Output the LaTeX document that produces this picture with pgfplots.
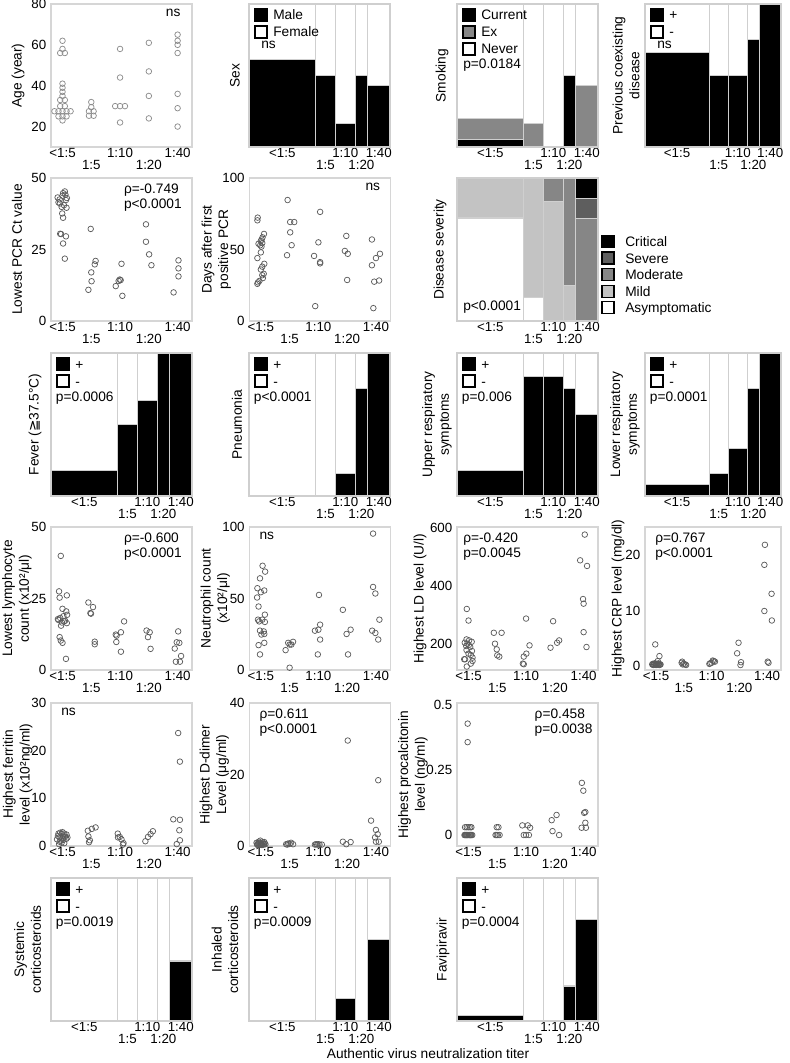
\documentclass[border=0pt]{standalone}
\usepackage{fontspec}
\setmainfont{Liberation Sans}
\newfontfamily\dejavu{DejaVu Sans}
\usepackage{pgfplots}
\pgfplotsset{compat=1.18}
\definecolor{frm}{HTML}{D6D6D6}
\definecolor{barln}{HTML}{CFCFCF}
\definecolor{mk}{HTML}{5C5C5C}
\definecolor{mkl}{HTML}{8C8C8C}
\definecolor{exg}{HTML}{878787}
\definecolor{sev}{HTML}{5E5E5E}
\definecolor{mod}{HTML}{868686}
\definecolor{mld}{HTML}{C3C3C3}
\newcommand{\tf}{\fontsize{10.3}{11.6}\selectfont}
\pgfplotsset{
  base/.style={scale only axis, width=105.75pt, height=107.25pt, anchor=north west,
    axis line style={frm, line width=0.8pt},
    xtick style={draw=none}, ytick style={draw=none},
    major tick length=0pt,
    tick label style={font=\fontsize{10}{12}\selectfont},
    xticklabel style={inner sep=0.3pt, text height=7pt, text depth=0pt, yshift=-0.5pt},
    label style={font=\fontsize{10.3}{12.5}\selectfont, align=center},
    /pgf/number format/assume math mode=true,
    clip=false},
  yl/.style={ylabel style={at={([xshift=#1]rel axis cs:0,0.5)}, anchor=center}},
  scat/.style={base, xmin=0.6, xmax=5.5,
    xtick={1,3,5}, xticklabels={<1:5,1:10,1:40},
    extra x ticks={2,4}, extra x tick labels={1:5,1:20},
    extra x tick style={tick label style={yshift=-8.6pt}}},
  mosaic/.style={base, xmin=0, xmax=1, ymin=0, ymax=1,
    xtick={0.236,0.6825,0.9205}, xticklabels={<1:5,1:10,1:40},
    extra x ticks={0.542,0.797}, extra x tick labels={1:5,1:20},
    extra x tick style={tick label style={yshift=-8.6pt}},
    ytick={0.5}, yticklabels={}},
  sc/.style={only marks, mark=o, mark size=2.1pt, color=mk, mark options={line width=0.55pt}},
  mb/.style={ybar interval, draw=barln, line width=0.9pt, forget plot},
}
\tikzset{
  tr/.style={anchor=north east, align=left, inner sep=0pt, xshift=-7.5pt, yshift=-4pt, font=\tf},
  tl/.style={anchor=north west, align=left, inner sep=0pt, xshift=4.5pt, yshift=-4pt, font=\tf},
  pl/.style={anchor=west, inner sep=0pt, xshift=3.5pt, yshift=-33.75pt, font=\tf},
  pl3/.style={anchor=west, inner sep=0pt, xshift=4.5pt, yshift=-45.75pt, font=\tf},
  nsl/.style={anchor=west, inner sep=0pt, xshift=9pt, yshift=-30.5pt, font=\tf},
}
% legend entry inside the axis, top left: #1 top offset, #2 fill, #3 text
\newcommand{\lgL}[3]{%
  \draw[fill=#2, line width=1pt] ([xshift=4.5pt,yshift=-#1]rel axis cs:0,1) rectangle ++(9pt,-9pt);
  \node[anchor=west, inner sep=0pt, text height=7.5pt, text depth=0pt, font=\tf] at ([xshift=18pt,yshift=-#1-4.5pt]rel axis cs:0,1) {#3};}
% legend entry outside right
\newcommand{\lgR}[3]{%
  \draw[fill=#2, line width=1pt] ([xshift=3pt,yshift=-#1]rel axis cs:1,1) rectangle ++(9pt,-9pt);
  \node[anchor=west, inner sep=0pt, text height=7.5pt, text depth=0pt, font=\tf] at ([xshift=20.25pt,yshift=-#1-4.5pt]rel axis cs:1,1) {#3};}
\begin{document}
\begin{tikzpicture}[font=\fontsize{10}{12}\selectfont]
\path[use as bounding box] (0,0) rectangle (591.75pt,-797.25pt);

% ---------------- Row 1 ----------------
\begin{axis}[scat, at={(38.25pt,-3pt)}, ymin=10, ymax=80, ytick={20,40,60,80}, ylabel={Age (year)}, yl=-24.75pt]
\addplot[sc, color=mkl] coordinates {(1,62)(1,58)(0.92,56)(1.08,56)(1,41)(1,39)(1,37)(1,35)(0.92,33)(1.08,33)(0.92,30)(1.08,30)(0.72,27.5)(0.86,27.5)(1,27.5)(1.14,27.5)(1.28,27.5)(0.86,25)(1,25)(1.14,25)(1,23)
(2,32)(2,29.5)(1.92,27.5)(2.08,27.5)(1.92,25.3)(2.08,25.3)
(3,58)(3,44)(2.83,30)(3,30)(3.17,30)(3,22)
(4,61)(4,47)(4,35)(4,24)
(5,65)(5,62)(5,60)(5,56)(5,36)(5,29)(5,20)};
\node[tr, xshift=-1pt] at (rel axis cs:1,1) {ns};
\end{axis}

\begin{axis}[mosaic, at={(186.75pt,-3pt)}, ylabel={Sex}, yl=-10.5pt]
\addplot[mb, fill=white] coordinates {(0,1)(0.472,1)(0.612,1)(0.753,1)(0.841,1)(1,1)};
\addplot[mb, fill=black] coordinates {(0,0.61)(0.472,0.5)(0.612,0.167)(0.753,0.5)(0.841,0.43)(1,0.43)};
\lgL{3.75pt}{black}{Male}
\lgL{16.5pt}{white}{Female}
\node[nsl] at (rel axis cs:0,1) {ns};
\end{axis}

\begin{axis}[mosaic, at={(342.75pt,-3pt)}, ylabel={Smoking}, yl=-11.25pt]
\addplot[mb, fill=white] coordinates {(0,1)(0.472,1)(0.612,1)(0.753,1)(0.841,1)(1,1)};
\addplot[mb, fill=exg] coordinates {(0,0.2)(0.472,0.167)(0.612,0)(0.753,0.5)(0.841,0.43)(1,0.43)};
\addplot[mb, fill=black] coordinates {(0,0.05)(0.472,0)(0.612,0)(0.753,0.5)(0.841,0)(1,0)};
\lgL{3.75pt}{black}{Current}
\lgL{16.5pt}{exg}{Ex}
\lgL{29.25pt}{white}{Never}
\node[pl3] at (rel axis cs:0,1) {p=0.0184};
\end{axis}

\begin{axis}[mosaic, at={(483.75pt,-3pt)}, width=102pt, ylabel={Previous coexisting\\disease}, yl=-14.25pt]
\addplot[mb, fill=white] coordinates {(0,1)(0.472,1)(0.612,1)(0.753,1)(0.841,1)(1,1)};
\addplot[mb, fill=black] coordinates {(0,0.66)(0.472,0.5)(0.612,0.5)(0.753,0.75)(0.841,1)(1,1)};
\lgL{3.75pt}{black}{+}
\lgL{16.5pt}{white}{-}
\node[nsl] at (rel axis cs:0,1) {ns};
\end{axis}

% ---------------- Row 2 ----------------
\begin{axis}[scat, at={(38.25pt,-133.5pt)}, ymin=0, ymax=50, ytick={0,25,50}, ylabel={Lowest PCR Ct value}, yl=-25.5pt]
\addplot[sc] coordinates {(1.08,45.3)(1.02,44.7)(1.1,44.2)(1.0,43.8)(0.83,43.2)(1.15,43.0)(0.9,42.5)(1.12,42.3)(0.86,41.5)(0.91,41.1)(1.05,40.5)(0.97,39.9)(1.14,39.6)(0.99,37.6)(1.02,36.1)(0.92,30.5)(0.95,30.4)(1.12,29.6)(1.02,27.1)(1.08,21.8)
(1.98,32.2)(2.15,21)(2.12,19.8)(2,17)(2.01,13.9)(1.9,10.9)
(3.05,20)(2.99,14.5)(2.95,14.0)(3.02,14.3)(2.85,12.2)(3.08,8.8)
(3.9,33.8)(3.9,27.7)(4.01,23.3)(4.09,19.5)
(5.03,21.2)(5.03,18.4)(5.03,15.6)(4.86,10)};
\node[tr] at (rel axis cs:1,1) {ρ=-0.749\\p<0.0001};
\end{axis}

\begin{axis}[scat, at={(187pt,-133.5pt)}, ymin=0, ymax=100, ytick={0,50,100}, ylabel={Days after first\\positive PCR}, yl=-24.75pt]
\addplot[sc] coordinates {(0.89,72.3)(0.88,70.4)(1.11,60.9)(1.06,58.5)(1.03,57)(1.0,56)(0.92,54)(1.05,54.5)(0.98,53)(1.02,52)(1.0,48)(0.88,44)(1.12,40)(1.05,38)(1.0,36)(1.1,33)(1.05,32)(1.07,30)(0.95,28)(0.9,27)(0.88,26)
(1.93,84.6)(2.02,69.2)(2.16,69.2)(2.02,62)(2.07,53)(1.91,46)
(3.06,76.3)(3.0,55)(2.85,45.5)(3.06,41.2)(3.06,40.3)(2.89,10.4)
(3.97,59.5)(3.92,49)(4.02,47)(4.0,28.7)
(4.86,57)(5.0,44)(5.14,47)(4.86,39)(4.94,27.5)(5.11,28.3)(4.91,9)};
\node[tr] at (rel axis cs:1,1) {ns};
\end{axis}

\begin{axis}[mosaic, at={(342.75pt,-133.5pt)}, ylabel={Disease severity}, yl=-12.75pt]
\addplot[mb, fill=black] coordinates {(0,1)(0.472,1)(0.612,1)(0.753,1)(0.841,1)(1,1)};
\addplot[mb, fill=sev] coordinates {(0,1)(0.472,1)(0.612,1)(0.753,1)(0.841,0.857)(1,0.857)};
\addplot[mb, fill=mod] coordinates {(0,1)(0.472,1)(0.612,1)(0.753,1)(0.841,0.714)(1,0.714)};
\addplot[mb, fill=mld] coordinates {(0,1)(0.472,1)(0.612,0.835)(0.753,0.25)(0.841,0)(1,0)};
\addplot[mb, fill=white] coordinates {(0,0.72)(0.472,0.167)(0.612,0)(0.753,0)(0.841,0)(1,0)};
\lgR{43.3pt}{black}{Critical}
\lgR{55.6pt}{sev}{Severe}
\lgR{68pt}{mod}{Moderate}
\lgR{80.4pt}{mld}{Mild}
\lgR{92.8pt}{white}{Asymptomatic}
\node[anchor=south west, inner sep=0pt, xshift=4.5pt, yshift=5.5pt, font=\tf] at (rel axis cs:0,0) {p<0.0001};
\end{axis}

% ---------------- Row 3 ----------------
\begin{axis}[mosaic, at={(38.25pt,-264.75pt)}, ylabel={Fever ({\dejavu ≧}37.5°C)}, yl=-12pt]
\addplot[mb, fill=white] coordinates {(0,1)(0.472,1)(0.612,1)(0.753,1)(0.841,1)(1,1)};
\addplot[mb, fill=black] coordinates {(0,0.18)(0.472,0.5)(0.612,0.667)(0.753,1)(0.841,1)(1,1)};
\lgL{3.75pt}{black}{+}
\lgL{16.5pt}{white}{-}
\node[pl] at (rel axis cs:0,1) {p=0.0006};
\end{axis}

\begin{axis}[mosaic, at={(186.75pt,-264.75pt)}, ylabel={Pneumonia}, yl=-9pt]
\addplot[mb, fill=white] coordinates {(0,1)(0.472,1)(0.612,1)(0.753,1)(0.841,1)(1,1)};
\addplot[mb, fill=black] coordinates {(0,0)(0.472,0)(0.612,0.156)(0.753,0.75)(0.841,1)(1,1)};
\lgL{3.75pt}{black}{+}
\lgL{16.5pt}{white}{-}
\node[pl] at (rel axis cs:0,1) {p<0.0001};
\end{axis}

\begin{axis}[mosaic, at={(342.75pt,-264.75pt)}, ylabel={Upper respiratory\\symptoms}, yl=-15pt]
\addplot[mb, fill=white] coordinates {(0,1)(0.472,1)(0.612,1)(0.753,1)(0.841,1)(1,1)};
\addplot[mb, fill=black] coordinates {(0,0.18)(0.472,0.833)(0.612,0.833)(0.753,0.75)(0.841,0.57)(1,0.57)};
\lgL{3.75pt}{black}{+}
\lgL{16.5pt}{white}{-}
\node[pl] at (rel axis cs:0,1) {p=0.006};
\end{axis}

\begin{axis}[mosaic, at={(483.75pt,-264.75pt)}, width=102pt, ylabel={Lower respiratory\\symptoms}, yl=-15pt]
\addplot[mb, fill=white] coordinates {(0,1)(0.472,1)(0.612,1)(0.753,1)(0.841,1)(1,1)};
\addplot[mb, fill=black] coordinates {(0,0.08)(0.472,0.16)(0.612,0.33)(0.753,0.75)(0.841,1)(1,1)};
\lgL{3.75pt}{black}{+}
\lgL{16.5pt}{white}{-}
\node[pl] at (rel axis cs:0,1) {p=0.0001};
\end{axis}

% ---------------- Row 4 ----------------
\begin{axis}[scat, at={(38.25pt,-395.25pt)}, ymin=0, ymax=50, ytick={0,25,50}, ylabel={Lowest lymphocyte\\count (x10²/μl)}, yl=-25.5pt]
\addplot[sc] coordinates {(0.94,39.9)(0.88,27.5)(0.9,25.3)(1.15,26.1)(1.0,21.4)(1.13,20.5)(0.92,18.2)(0.84,17.8)(0.86,17.5)(1.03,18.8)(1.16,19.3)(1.09,17.2)(1.15,16.4)(0.95,15.5)(0.9,11.5)(0.94,10.3)(1.0,9.5)(1.12,3.9)(1.05,17.0)(0.98,16.6)
(1.9,23.6)(2.06,22)(1.97,19.9)(1.99,19.7)(2.12,9.9)(2.12,9)
(3.14,17)(3.03,13.2)(2.85,12.4)(2.88,12)(2.87,9.8)(3.03,6.4)
(3.92,13.8)(4.03,13.2)(3.97,11.5)(4.06,7.4)
(5.02,13.5)(4.97,9.7)(5.06,9.5)(4.9,7.5)(5.12,4.9)(4.94,2.9)(5.08,2.9)};
\node[tr] at (rel axis cs:1,1) {ρ=-0.600\\p<0.0001};
\end{axis}

\begin{axis}[scat, at={(187pt,-395.25pt)}, ymin=0, ymax=100, ytick={0,50,100}, ylabel={Neutrophil count\\(x10²/μl)}, yl=-25.5pt]
\addplot[sc] coordinates {(1.06,72.9)(1.15,68.8)(0.97,64.1)(0.88,57.2)(1.0,54.4)(1.12,55.6)(0.87,50.7)(0.92,44.4)(1.14,38.7)(0.9,35.2)(0.94,34)(1.14,33.6)(0.97,27.5)(1.1,27)(1.02,24.8)(1.12,25.2)(0.92,17.4)(1.12,19)(0.97,10.9)(1.05,35.2)
(1.86,13.9)(1.95,19)(2.0,17.8)(2.06,17.8)(2.12,19.7)(2.0,1.6)
(2.88,27.5)(3.0,28.2)(3.06,31.7)(3.02,52.5)(3.06,21.3)(2.98,10.9)
(3.85,42.1)(3.98,25.2)(4.12,28.2)(4.03,10.9)
(4.9,95.4)(4.9,58.1)(4.98,53.5)(5.12,35.2)(4.87,27.5)(4.98,25.9)(5.08,21.3)};
\node[tl, xshift=3pt] at (rel axis cs:0,1) {ns};
\end{axis}

\begin{axis}[scat, at={(342.75pt,-395.25pt)}, ymin=112, ymax=603, ytick={200,400,600}, ylabel={Highest LD level (U/l)}, yl=-27.75pt]
\addplot[sc] coordinates {(0.94,321.6)(1.0,281.8)(0.93,217)(1.02,213.6)(0.87,205.7)(1.11,209)(0.96,202.3)(1.01,197.7)(0.92,194.3)(1.06,190.9)(0.93,180.7)(1.12,177.3)(1.0,168.2)(1.08,163.6)(0.85,148.9)(0.88,148.9)(1.14,154.5)(1.08,134)(0.94,123.9)(1.14,143)
(1.88,239.8)(2.15,239.8)(1.92,202.3)(1.98,183)(2.0,162.5)(2.07,158)
(3.0,288.6)(3.12,196.6)(3.01,168.2)(2.92,158)(2.89,134)(2.92,131.8)
(3.94,279.5)(4.15,213.6)(4.08,205.7)(3.85,188.6)
(5.04,577)(4.88,488.6)(5.12,469.3)(4.98,355.7)(5.0,339.8)(5.0,242)(5.1,190.9)};
\node[tl] at (rel axis cs:0,1) {ρ=-0.420\\p=0.0045};
\end{axis}

\begin{axis}[scat, at={(483.75pt,-395.25pt)}, width=102pt, ymin=-0.7, ymax=25, ytick={0,10,20}, ylabel={Highest CRP level (mg/dl)}, yl=-20.25pt]
\addplot[sc] coordinates {(0.97,3.9)(1.12,1.8)(1.06,0.9)(0.86,0.3)(0.9,0.3)(0.93,0.3)(0.97,0.3)(1.0,0.3)(1.03,0.3)(1.07,0.3)(1.1,0.3)(1.14,0.3)(0.88,0.4)(0.95,0.5)(1.02,0.4)(1.09,0.5)(1.16,0.3)(0.9,0.2)(1.0,0.2)(1.12,0.2)
(1.92,0.6)(1.96,0.3)(2.08,0.2)(2.0,0.4)(1.94,0.8)(2.05,0.3)
(2.92,0.4)(3.0,0.6)(3.08,0.9)(3.12,0.8)(3.04,1.0)(2.95,0.5)
(3.97,4.2)(3.92,2.3)(4.06,0.7)(4.04,0.2)
(4.92,21.8)(4.9,18.2)(5.16,13)(4.9,9.9)(5.17,8.2)(5.02,0.8)(5.05,0.6)};
\node[tl, xshift=3pt] at (rel axis cs:0,1) {ρ=0.767\\p<0.0001};
\end{axis}

% ---------------- Row 5 ----------------
\begin{axis}[scat, at={(38.25pt,-527.25pt)}, ymin=0, ymax=30, ytick={0,10,20,30}, ylabel={Highest ferritin\\level (x10²ng/ml)}, yl=-25pt]
\addplot[sc] coordinates {(0.84,2.1)(0.9,1.8)(0.97,2.5)(1.03,2.0)(1.09,2.0)(0.81,1.4)(0.94,1.1)(0.88,0.4)(0.97,0.7)(1.03,1.3)(1.13,1.5)(1.17,1.8)(0.86,2.6)(0.92,2.8)(1.0,2.9)(1.06,2.6)(1.14,2.4)(0.9,0.9)(1.06,0.6)(1.0,1.6)
(1.88,3.2)(2.02,3.6)(2.15,3.9)(1.9,2.0)(1.95,1.2)(1.92,0.8)
(2.92,2.6)(2.99,1.9)(3.05,1.4)(2.93,1.8)(3.1,0.3)(3.12,0.6)
(3.88,1.0)(3.97,1.9)(4.06,2.5)(4.14,3.1)
(5.02,23.7)(5.08,17.7)(4.85,5.6)(5.08,5.5)(5.06,3.3)(5.08,1.2)(4.97,0.4)};
\node[tl, xshift=3pt] at (rel axis cs:0,1) {ns};
\end{axis}

\begin{axis}[scat, at={(187pt,-527.25pt)}, ymin=0, ymax=40, ytick={0,20,40}, ylabel={Highest D-dimer\\Level (μg/ml)}, yl=-26.25pt]
\addplot[sc] coordinates {(0.85,0.9)(0.9,0.5)(0.93,1.2)(0.97,0.4)(1.0,0.8)(1.03,0.5)(1.06,1.0)(1.1,0.4)(1.13,0.7)(1.16,0.5)(0.88,0.3)(0.95,0.6)(1.02,0.3)(1.08,0.6)(0.92,0.8)(0.98,1.5)(1.05,0.3)(1.12,1.1)(0.87,0.5)(1.0,0.4)
(1.88,0.5)(1.95,0.7)(2.05,0.9)(2.12,0.5)(2.0,0.6)(1.92,0.4)
(2.88,0.4)(2.96,0.4)(3.04,0.4)(3.12,0.4)(3.0,0.5)(2.92,0.5)
(4.02,29.5)(3.85,1.2)(3.97,0.5)(4.12,1.1)
(5.08,18.4)(4.83,7.1)(5.0,4.5)(5.06,3.3)(4.97,2.4)(5.0,1.2)(5.1,1.2)};
\node[tl, xshift=3pt] at (rel axis cs:0,1) {ρ=0.611\\p<0.0001};
\end{axis}

\begin{axis}[scat, at={(342.75pt,-527.25pt)}, ymin=-0.042, ymax=0.506, ytick={0,0.25,0.5}, ylabel={Highest procalcitonin\\level (ng/ml)}, yl=-33pt]
\addplot[sc] coordinates {(0.97,0.427)(0.97,0.356)(0.88,0.03)(0.94,0.03)(1.0,0.03)(1.06,0.03)(1.1,0.03)(0.86,0)(0.9,0)(0.94,0)(0.98,0)(1.02,0)(1.06,0)(1.1,0)(1.13,0)(0.92,0)(1.04,0)(0.96,0)(1.08,0)(0.88,0)
(1.98,0.03)(2.04,0.03)(1.94,0)(2.02,0)(2.08,0)(1.98,0)
(2.87,0.037)(3.06,0.037)(3.14,0.028)(2.92,0)(3.1,0)(3.0,0)
(3.89,0.057)(4.06,0.077)(3.92,0.015)(4.15,0)
(4.94,0.2)(4.99,0.17)(5.06,0.088)(5.02,0.085)(5.06,0.047)(4.93,0.028)(5.08,0.028)};
\node[tr, xshift=3.5pt] at (rel axis cs:1,1) {ρ=0.458\\p=0.0038};
\end{axis}

% ---------------- Row 6 ----------------
\begin{axis}[mosaic, at={(38.25pt,-658.5pt)}, ylabel={Systemic\\corticosteroids}, yl=-17.6pt]
\addplot[mb, fill=white] coordinates {(0,1)(0.472,1)(0.612,1)(0.753,1)(0.841,1)(1,1)};
\addplot[mb, fill=black] coordinates {(0,0)(0.472,0)(0.612,0)(0.753,0)(0.841,0.42)(1,0.42)};
\lgL{3.75pt}{black}{+}
\lgL{16.5pt}{white}{-}
\node[pl] at (rel axis cs:0,1) {p=0.0019};
\end{axis}

\begin{axis}[mosaic, at={(186.75pt,-658.5pt)}, ylabel={Inhaled\\corticosteroids}, yl=-18pt]
\addplot[mb, fill=white] coordinates {(0,1)(0.472,1)(0.612,1)(0.753,1)(0.841,1)(1,1)};
\addplot[mb, fill=black] coordinates {(0,0)(0.472,0)(0.612,0.16)(0.753,0)(0.841,0.57)(1,0.57)};
\lgL{3.75pt}{black}{+}
\lgL{16.5pt}{white}{-}
\node[pl] at (rel axis cs:0,1) {p=0.0009};
\end{axis}

\begin{axis}[mosaic, at={(342.75pt,-658.5pt)}, ylabel={Favipiravir}, yl=-10.5pt]
\addplot[mb, fill=white] coordinates {(0,1)(0.472,1)(0.612,1)(0.753,1)(0.841,1)(1,1)};
\addplot[mb, fill=black] coordinates {(0,0.04)(0.472,0)(0.612,0)(0.753,0.245)(0.841,0.71)(1,0.71)};
\lgL{3.75pt}{black}{+}
\lgL{16.5pt}{white}{-}
\node[pl] at (rel axis cs:0,1) {p=0.0004};
\end{axis}

\node[font=\fontsize{10.3}{12}\selectfont] at (321pt,-790pt) {Authentic virus neutralization titer};
\end{tikzpicture}
\end{document}
